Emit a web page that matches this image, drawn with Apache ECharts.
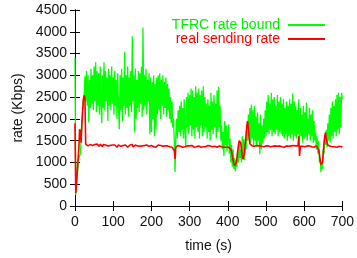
<!DOCTYPE html>
<html>
<head>
<meta charset="utf-8">
<script src="https://cdn.jsdelivr.net/npm/echarts@6/dist/echarts.min.js"></script>
<style>
  html, body { margin: 0; padding: 0; background: #fff; }
  #chart { width: 357px; height: 258px; }
</style>
</head>
<body>
<div id="chart"></div>
<script>
// sampled every 2 s, t = 0 .. 700
const step = 2;
const xTicks = [0, 100, 200, 300, 400, 500, 600, 700];
const yTicks = [0, 500, 1000, 1500, 2000, 2500, 3000, 3500, 4000, 4500];
const seriesNames = ['TFRC rate bound', 'real sending rate'];

// TFRC rate bound (Kbps)
const boundRate = [
  3400, 250, 450, 700, 900, 1100, 1150, 1200, 1500, 1800,
  2200, 2450, 2550, 2980, 2400, 3100, 2300, 3000, 1920, 2900,
  2250, 3150, 2350, 3000, 2200, 3200, 2400, 3300, 2150, 3100,
  2300, 3050, 2100, 3200, 2350, 1900, 3000, 2250, 3300, 2200,
  3100, 2400, 2950, 1950, 3150, 2300, 3000, 2200, 3200, 2350,
  2950, 2100, 3100, 2300, 2900, 2000, 3050, 2250, 1760, 3000,
  2200, 3150, 1950, 2950, 2300, 3540, 2100, 3000, 2250, 3200,
  2050, 2950, 2300, 3100, 2150, 3900, 2400, 3000, 1700, 3150,
  2000, 2900, 2250, 3100, 2150, 3050, 2350, 3200, 2050, 4100,
  2200, 3000, 2300, 3150, 2100, 2900, 2400, 3050, 1650, 2950,
  1700, 2850, 2000, 3000, 1600, 2800, 1750, 2950, 2100, 3000,
  2200, 3050, 2000, 2900, 2300, 3000, 2100, 2850, 2250, 2950,
  2050, 2800, 2200, 2700, 2000, 2500, 1900, 2400, 1800, 2000,
  1500, 780, 1600, 2000, 1550, 2200, 1700, 2300, 1600, 2400,
  1750, 2250, 1550, 2450, 1700, 1350, 2500, 1800, 2600, 1650,
  2550, 1850, 2700, 1600, 2650, 1750, 2500, 1550, 2750, 1800,
  2600, 1700, 2700, 1550, 2550, 1850, 2650, 1600, 2750, 1700,
  2500, 1800, 2350, 1550, 2450, 1700, 2300, 1500, 2600, 1750,
  2400, 1650, 2550, 1800, 2350, 1550, 2650, 1700, 2740, 1800,
  2300, 1500, 1850, 1300, 1700, 1150, 1950, 1400, 1850, 1250,
  1650, 1870, 1200, 1550, 1000, 1400, 900, 1300, 850, 1100,
  800, 1050, 900, 1250, 1000, 1450, 1100, 1300, 1000, 1600,
  1200, 1530, 1050, 1450, 1300, 1700, 1500, 2100, 1600, 2250,
  1450, 2330, 1550, 2200, 1400, 2300, 1500, 2050, 1350, 2150,
  1500, 1900, 1190, 2100, 1300, 1850, 1450, 2000, 1550, 2200,
  1600, 2400, 1700, 2550, 1650, 2350, 1750, 2600, 1600, 2450,
  1700, 2500, 1650, 2300, 1750, 2550, 1600, 2400, 1700, 2500,
  1650, 2350, 1600, 2450, 1550, 2250, 1650, 2400, 1500, 2300,
  1600, 2450, 1550, 2350, 1650, 2580, 1500, 2400, 1600, 2300,
  1550, 2200, 1650, 2450, 1500, 2250, 1600, 2100, 1450, 2300,
  1550, 2150, 1600, 2370, 1500, 2000, 1650, 2250, 1500, 2100,
  1600, 2200, 1450, 1950, 1500, 1700, 1300, 1600, 1200, 1500,
  1000, 1100, 775, 1000, 850, 1300, 1200, 1600, 1400, 1750,
  1350, 1900, 1500, 2100, 1450, 2250, 1600, 2400, 1550, 2300,
  1700, 2450, 1600, 2550, 1750, 2600, 1650, 2500, 1800, 2600,
  2450
];

// real sending rate (Kbps)
const sendRate = [
  1900, 300, 550, 800, 1070, 1300, 1760, 1700, 1455, 1900,
  2200, 2450, 2540, 2480, 1420, 1400, 1440, 1380, 1420, 1390,
  1410, 1380, 1430, 1390, 1420, 1370, 1410, 1400, 1380, 1420,
  1390, 1410, 1370, 1420, 1380, 1400, 1360, 1410, 1390, 1380,
  1400, 1370, 1410, 1380, 1400, 1360, 1390, 1410, 1370, 1400,
  1380, 1360, 1400, 1370, 1390, 1350, 1380, 1400, 1360, 1390,
  1370, 1400, 1350, 1390, 1380, 1360, 1400, 1370, 1390, 1350,
  1390, 1370, 1400, 1360, 1380, 1410, 1360, 1390, 1370, 1400,
  1360, 1390, 1380, 1350, 1400, 1370, 1390, 1360, 1380, 1400,
  1370, 1390, 1350, 1380, 1400, 1360, 1390, 1370, 1380, 1350,
  1390, 1370, 1400, 1360, 1380, 1390, 1350, 1380, 1370, 1400,
  1360, 1380, 1390, 1350, 1380, 1370, 1400, 1360, 1380, 1390,
  1350, 1380, 1370, 1390, 1360, 1380, 1400, 1350, 1380, 1370,
  1280, 1080, 1350, 1380, 1360, 1390, 1350, 1380, 1370, 1360,
  1390, 1350, 1380, 1370, 1360, 1390, 1350, 1380, 1370, 1360,
  1380, 1350, 1370, 1390, 1360, 1380, 1350, 1370, 1390, 1360,
  1370, 1350, 1380, 1360, 1390, 1350, 1370, 1380, 1360, 1350,
  1380, 1360, 1370, 1350, 1390, 1360, 1370, 1380, 1350, 1370,
  1360, 1380, 1350, 1370, 1360, 1390, 1350, 1370, 1360, 1380,
  1350, 1370, 1360, 1340, 1380, 1350, 1370, 1360, 1350, 1380,
  1360, 1350, 1380, 1340, 1300, 1250, 1150, 1050, 980, 930,
  920, 980, 1100, 1250, 1400, 1500, 1530, 1450, 1300, 1150,
  1070, 1100, 1250, 1450, 1650, 1850, 1950, 1800, 1550, 1430,
  1420, 1400, 1380, 1410, 1390, 1370, 1400, 1380, 1390, 1370,
  1400, 1380, 1360, 1390, 1370, 1400, 1380, 1360, 1390, 1370,
  1380, 1390, 1360, 1380, 1370, 1400, 1360, 1380, 1390, 1370,
  1360, 1390, 1380, 1350, 1380, 1370, 1390, 1360, 1380, 1370,
  1390, 1360, 1380, 1370, 1350, 1390, 1370, 1380, 1360, 1380,
  1370, 1390, 1350, 1380, 1370, 1360, 1390, 1370, 1350, 1380,
  1370, 1360, 1380, 1600, 1150, 1370, 1380, 1360, 1370, 1350,
  1380, 1360, 1370, 1350, 1380, 1370, 1360, 1380, 1350, 1370,
  1360, 1380, 1370, 1350, 1370, 1360, 1380, 1350, 1370, 1300,
  1200, 1050, 950, 920, 1000, 1200, 1450, 1600, 1690, 1550,
  1450, 1400, 1380, 1360, 1370, 1350, 1380, 1360, 1350, 1370,
  1360, 1340, 1370, 1350, 1360, 1340, 1370, 1350, 1340, 1360,
  1350
];

function toPairs(arr) {
  return arr.map((v, i) => [i * step, v]);
}

const font = 'Liberation Sans, Arial, sans-serif';
const tickAxis = {
  type: 'value',
  axisLine: { show: true, lineStyle: { color: '#000', width: 1 } },
  axisTick: { show: true, inside: true, length: 5, lineStyle: { color: '#000' } },
  splitLine: { show: false },
  axisLabel: { show: false }
};

let myChart = echarts.init(document.getElementById('chart'));
let option = {
  animation: false,
  backgroundColor: '#fff',
  grid: { left: 75, right: 11, top: 10, bottom: 51 },
  legend: {
    orient: 'vertical',
    right: 27,
    top: 13,
    align: 'right',
    itemGap: 0,
    itemWidth: 37,
    itemHeight: 2,
    icon: 'rect',
    data: [
      { name: seriesNames[0], textStyle: { color: '#00ee00' } },
      { name: seriesNames[1], textStyle: { color: '#ff0000' } }
    ],
    textStyle: { fontFamily: font, fontSize: 14, lineHeight: 13.5, padding: [0, 3, 0, 0] }
  },
  xAxis: [
    Object.assign({}, tickAxis, {
      min: xTicks[0], max: xTicks[xTicks.length - 1], interval: 100,
      position: 'bottom',
      name: 'time (s)', nameLocation: 'middle', nameGap: 33,
      nameTextStyle: { fontFamily: font, fontSize: 14, color: '#111' },
      axisLabel: { show: true, fontFamily: font, fontSize: 14, color: '#111', margin: 9,
        formatter: v => String(v) }
    }),
    Object.assign({}, tickAxis, {
      min: xTicks[0], max: xTicks[xTicks.length - 1], interval: 100,
      position: 'top'
    })
  ],
  yAxis: [
    Object.assign({}, tickAxis, {
      min: yTicks[0], max: yTicks[yTicks.length - 1], interval: 500,
      position: 'left',
      name: 'rate (Kbps)', nameLocation: 'middle', nameGap: 49, nameRotate: 90,
      nameTextStyle: { fontFamily: font, fontSize: 14, color: '#111' },
      axisLabel: { show: true, fontFamily: font, fontSize: 14, color: '#111', margin: 8,
        formatter: v => String(v) }
    }),
    Object.assign({}, tickAxis, {
      min: yTicks[0], max: yTicks[yTicks.length - 1], interval: 500,
      position: 'right'
    })
  ],
  series: [
    {
      name: seriesNames[0],
      type: 'line',
      data: toPairs(boundRate),
      symbol: 'none',
      color: '#00ff00',
      lineStyle: { color: '#00ff00', width: 1.3 },
      z: 2
    },
    {
      name: seriesNames[1],
      type: 'line',
      data: toPairs(sendRate),
      symbol: 'none',
      color: '#ff0000',
      lineStyle: { color: '#ff0000', width: 1.6 },
      z: 3
    }
  ]
};
myChart.setOption(option);
</script>
</body>
</html>
